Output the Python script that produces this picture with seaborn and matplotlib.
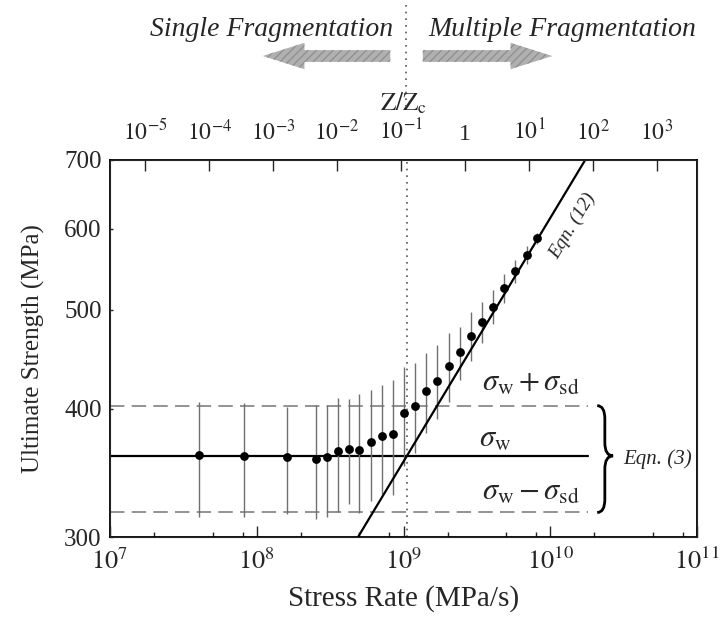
import numpy as np
import pandas as pd
import seaborn as sns
import matplotlib.pyplot as plt
from matplotlib.path import Path
from matplotlib.patches import PathPatch, FancyArrowPatch
from matplotlib.lines import Line2D
from matplotlib.ticker import FixedLocator, FixedFormatter, LogLocator, NullLocator, NullFormatter

# --- data ---
stress_rate = [4.06e7, 8.2e7, 1.61e8, 2.54e8, 3.0e8, 3.56e8, 4.25e8, 5.0e8,
               5.98e8, 7.16e8, 8.48e8, 1.01e9, 1.20e9, 1.43e9, 1.70e9, 2.03e9,
               2.43e9, 2.87e9, 3.41e9, 4.05e9, 4.86e9, 5.77e9, 6.90e9, 8.15e9]
strength = [360.4, 359.7, 359.1, 357.8, 358.9, 363.9, 366.0, 365.1,
            371.4, 376.2, 378.3, 396.0, 402.6, 416.4, 426.3, 440.4,
            454.2, 471.2, 486.0, 503.3, 524.6, 545.3, 565.3, 586.8]
strength_sd = [46.3, 45.6, 43.1, 45.4, 44.8, 46.5, 43.1, 48.4,
               46.3, 45.6, 48.3, 44.0, 40.6, 37.5, 35.6, 34.4,
               26.9, 25.9, 22.5, 19.3, 17.0, 14.3, 11.7, 7.7]

sigma_w = 360.0
sigma_sd = 43.0
weibull_rate_range = [1e7, 1.8e10]

eqn12_rate = [4.9e8, 1.73e10]
eqn12_strength = [300, 700]

critical_rate = 1.05e9  # dotted line, Z/Zc boundary

x_ticks = [1e7, 1e8, 1e9, 1e10, 1e11]
x_tick_labels = ["$10^{7}$", "$10^{8}$", "$10^{9}$", "$10^{10}$", "$10^{11}$"]
y_ticks = [300, 400, 500, 600, 700]
z_ticks = [1e-5, 1e-4, 1e-3, 1e-2, 1e-1, 1, 1e1, 1e2, 1e3]
z_tick_labels = ["$10^{-5}$", "$10^{-4}$", "$10^{-3}$", "$10^{-2}$", "$10^{-1}$",
                 "1", "$10^{1}$", "$10^{2}$", "$10^{3}$"]
z_limits = [10 ** -5.55, 10 ** 3.63]

df = pd.DataFrame({"rate": stress_rate, "strength": strength, "sd": strength_sd})

# --- style ---
sns.set_style("ticks")
plt.rcParams["font.family"] = ["Liberation Serif", "DejaVu Serif"]
plt.rcParams["mathtext.fontset"] = "stix"
plt.rcParams["hatch.linewidth"] = 0.9

fig = plt.figure(figsize=(7.25, 6.2), dpi=100)
ax = fig.add_axes([110 / 725, 1 - 537 / 620, 587 / 725, 377 / 620])

ax.set_xscale("log")
ax.set_yscale("log")
ax.set_xlim(1e7, 1e11)
ax.set_ylim(300, 700)

# horizontal reference lines (Eqn. 3)
ax.plot(weibull_rate_range, [sigma_w, sigma_w], color="black", lw=1.6, zorder=2)
for v in (sigma_w + sigma_sd, sigma_w - sigma_sd):
    ax.plot(weibull_rate_range, [v, v], color="#8a8a8a", lw=1.3,
            dashes=(8, 4), zorder=1)

# error bars + points
ax.errorbar(df["rate"], df["strength"], yerr=df["sd"], fmt="none",
            ecolor="#707070", elinewidth=1.0, capsize=0, zorder=2)
sns.scatterplot(data=df, x="rate", y="strength", ax=ax, color="black",
                s=40, edgecolor="black", linewidth=0, zorder=4, legend=False)

# Eqn. (12)
sns.lineplot(x=eqn12_rate, y=eqn12_strength, ax=ax, color="black", lw=1.6,
             zorder=3)
ax.text(1.43e10, 603, "Eqn. (12)", rotation=59, style="italic", fontsize=14,
        ha="center", va="center")

# dotted critical line
ax.axvline(critical_rate, color="#555555", lw=1.2, ls=(0, (1, 3)), zorder=1)

# sigma labels
ax.text(0.717, 424, r"$\sigma_{\rm w} + \sigma_{\rm sd}$", fontsize=22,
        ha="center", va="center", transform=ax.get_yaxis_transform())
ax.text(0.656, 374, r"$\sigma_{\rm w}$", fontsize=22,
        ha="center", va="center", transform=ax.get_yaxis_transform())
ax.text(0.717, 332, r"$\sigma_{\rm w} - \sigma_{\rm sd}$", fontsize=22,
        ha="center", va="center", transform=ax.get_yaxis_transform())

# brace
lo, hi = np.log(300), np.log(700)
frac = lambda v: (np.log(v) - lo) / (hi - lo)
yt, ym, yb = frac(sigma_w + sigma_sd), frac(sigma_w), frac(sigma_w - sigma_sd)
x0, xm, xt, d = 0.830, 0.843, 0.857, 0.035
verts = [(x0, yt), (xm, yt), (xm, yt - d), (xm, ym + d), (xm, ym), (xt, ym),
         (xm, ym), (xm, ym - d), (xm, yb + d), (xm, yb), (x0, yb)]
codes = [Path.MOVETO, Path.CURVE3, Path.CURVE3, Path.LINETO, Path.CURVE3,
         Path.CURVE3, Path.CURVE3, Path.CURVE3, Path.LINETO, Path.CURVE3,
         Path.CURVE3]
ax.add_patch(PathPatch(Path(verts, codes), transform=ax.transAxes,
                       fill=False, lw=2.0, color="black", zorder=3))
ax.text(0.874, 357, "Eqn. (3)", style="italic", fontsize=15, ha="left",
        va="center", transform=ax.get_yaxis_transform())

# bottom / left axes
ax.xaxis.set_major_locator(FixedLocator(x_ticks))
ax.xaxis.set_major_formatter(FixedFormatter(x_tick_labels))
ax.xaxis.set_minor_locator(LogLocator(base=10, subs=(2, 5, 8)))
ax.xaxis.set_minor_formatter(NullFormatter())
ax.yaxis.set_major_locator(FixedLocator(y_ticks))
ax.yaxis.set_major_formatter(FixedFormatter([str(v) for v in y_ticks]))
ax.yaxis.set_minor_locator(NullLocator())
ax.tick_params(axis="x", which="major", direction="in", length=8, width=1,
               labelsize=19, pad=8, top=False)
ax.tick_params(axis="x", which="minor", direction="in", length=3.5, width=1,
               top=False)
ax.tick_params(axis="y", which="major", direction="in", length=2, width=1,
               labelsize=18, pad=6)
ax.set_xlabel("Stress Rate (MPa/s)", fontsize=21, labelpad=8)
ax.set_ylabel("Ultimate Strength (MPa)", fontsize=18, labelpad=14)
for s in ax.spines.values():
    s.set_visible(True)
    s.set_linewidth(1.3)
    s.set_color("black")

# top axis Z/Zc
axt = ax.twiny()
axt.set_xscale("log")
axt.set_xlim(*z_limits)
axt.xaxis.set_major_locator(FixedLocator(z_ticks))
axt.xaxis.set_major_formatter(FixedFormatter(z_tick_labels))
axt.xaxis.set_minor_locator(NullLocator())
axt.tick_params(axis="x", which="major", direction="in", length=8, width=1,
                labelsize=17, pad=11)
axt.set_xlabel(r"$\mathrm{Z/Z_c}$", fontsize=18, labelpad=6)

# regime annotations above the plot
xc = 406 / 725
fig.add_artist(Line2D([xc, xc], [1 - 5 / 620, 1 - 110 / 620], color="#555555",
                      lw=1.2, ls=(0, (1, 3))))
fig.text(393 / 725, 1 - 30 / 620, "Single Fragmentation", style="italic",
         fontsize=20, ha="right", va="center")
fig.text(428 / 725, 1 - 30 / 620, "Multiple Fragmentation", style="italic",
         fontsize=20, ha="left", va="center")
arrow_kw = dict(arrowstyle="simple,head_length=3.0,head_width=1.9,tail_width=0.85",
                fc="#b0b0b0", ec="#8e8e8e", lw=0.0, hatch="////",
                mutation_scale=10)
fig.add_artist(FancyArrowPatch((393 / 725, 1 - 56 / 620), (260 / 725, 1 - 56 / 620),
                               transform=fig.transFigure, **arrow_kw))
fig.add_artist(FancyArrowPatch((420 / 725, 1 - 56 / 620), (555 / 725, 1 - 56 / 620),
                               transform=fig.transFigure, **arrow_kw))

fig.savefig("out.png", dpi=100)
